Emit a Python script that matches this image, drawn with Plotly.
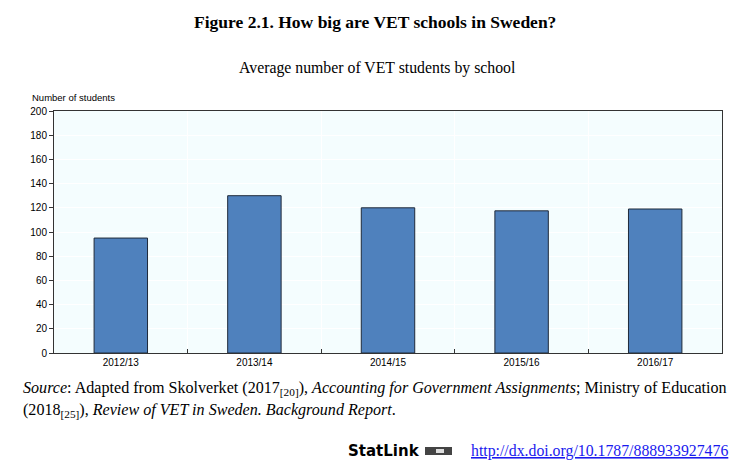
import plotly.graph_objects as go

categories = ["2012/13", "2013/14", "2014/15", "2015/16", "2016/17"]
values = [95, 130, 120, 117.5, 119]
y_ticks = list(range(0, 201, 20))

# page body has an 8px offset; figure spans screen 8..749 x 8..470
OFF = 8
W, H = 749 - OFF, 470 - OFF
L, R, T, B = 54 - OFF, 749 - 722, 111 - OFF, 470 - 353
PW, PH = W - L - R, H - T - B

fig = go.Figure()
fig.add_trace(go.Bar(
    x=categories, y=values, width=0.4,
    marker=dict(color="#4F81BD", line=dict(color="#1f2a3a", width=1)),
))

fig.update_layout(
    width=W, height=H,
    margin=dict(l=L, r=R, t=T, b=B),
    paper_bgcolor="white", plot_bgcolor="#F4FDFE",
    showlegend=False,
    font=dict(family="Liberation Sans, Arial", size=10, color="black"),
)
fig.update_xaxes(
    showline=True, linecolor="#333", linewidth=1, mirror=True,
    ticks="inside", ticklen=4, tickcolor="#333", tickson="boundaries",
    showgrid=True, gridcolor="white", gridwidth=1,
    tickfont=dict(size=10), fixedrange=True,
)
fig.update_yaxes(
    range=[0, 200], tickvals=y_ticks, showline=True, linecolor="#333",
    linewidth=1, mirror=True, ticks="outside", ticklen=4, tickcolor="#333",
    showgrid=True, gridcolor="white", gridwidth=1, zeroline=False,
    tickfont=dict(size=10),
)

serif = "Liberation Serif, Times New Roman"


def px(X):
    return (X - OFF - L) / PW


def py(Y):
    return (H - B - (Y - OFF)) / PH


annotations = [
    dict(text="<b>Figure 2.1. How big are VET schools in Sweden?</b>", x=375, y=22,
         font=dict(family=serif, size=17.5), xanchor="center"),
    dict(text="Average number of VET students by school", x=377, y=68,
         font=dict(family=serif, size=15.8), xanchor="center"),
    dict(text="Number of students", x=30, y=97,
         font=dict(family="Liberation Sans, Arial", size=9.5), xanchor="left"),
    dict(text="<i>Source</i>: Adapted from Skolverket (2017<sub>[20]</sub>), <i>Accounting for Government Assignments</i>; Ministry of Education",
         x=21, y=388, font=dict(family=serif, size=16.1), xanchor="left"),
    dict(text="(2018<sub>[25]</sub>), <i>Review of VET in Sweden. Background Report</i>.",
         x=21, y=410, font=dict(family=serif, size=16.1), xanchor="left"),
    dict(text="<b>StatLink</b>", x=346, y=451,
         font=dict(family="DejaVu Sans", size=15), xanchor="left"),
    dict(text="<u>http://dx.doi.org/10.1787/888933927476</u>", x=730, y=451,
         font=dict(family=serif, size=15.8, color="#1a1aee"), xanchor="right"),
]
for a in annotations:
    Y = a.pop("y"); X = a.pop("x")
    fig.add_annotation(xref="paper", yref="paper", x=px(X), y=py(Y),
                       yanchor="middle", showarrow=False, **a)

# StatLink icon approximation
fig.add_shape(type="rect", xref="paper", yref="paper",
              x0=px(425), x1=px(452), y0=py(455), y1=py(447),
              fillcolor="#444", line=dict(width=0))
fig.add_shape(type="rect", xref="paper", yref="paper",
              x0=px(436), x1=px(444), y0=py(453), y1=py(449),
              fillcolor="#ddd", line=dict(width=0))

fig.write_html("out.html")
